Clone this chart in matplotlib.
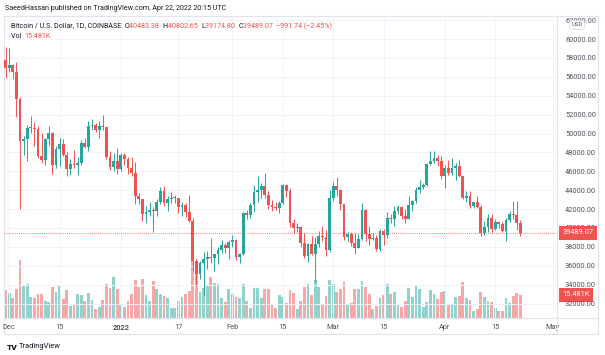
import matplotlib
matplotlib.use('Agg')
import matplotlib.pyplot as plt
import matplotlib.dates as mdates
from matplotlib.transforms import Affine2D
from matplotlib.lines import Line2D
from matplotlib.patches import Rectangle
from matplotlib.ticker import FuncFormatter
import numpy as np
import pandas as pd

plt.rcParams['font.family'] = ['Roboto', 'DejaVu Sans']

# ---------------- data ----------------
dates = pd.date_range('2021-11-30', '2022-04-22', freq='D')

opens = [57800, 56950, 57200, 56500, 53600, 49200, 49400, 50550, 50600, 50500, 47600, 47200, 49400, 50100,
         46700, 48400, 48900, 47700, 46200, 46800, 46700, 46900, 49000, 48600, 50800, 50850, 50400, 50800,
         50700, 47500, 46500, 47100,
         46200, 47700, 47300, 46400, 45800, 43400, 43100, 41500, 41700, 41900, 41800, 42700, 43900, 42600,
         43100, 43150, 43200, 42250, 42400, 41700, 40700, 36500, 35100, 36300, 36700, 36950, 36850, 37200,
         37700, 38200, 37900,
         38500, 38700, 36900, 37300, 41600, 41400, 42400, 43800, 44000, 44400, 43500, 42400, 42200, 42100,
         42600, 44500, 43900, 40500, 40000, 40100, 38400, 37000, 38300, 37300, 38300, 39200, 39100, 37700,
         43200, 44400, 44000, 42500, 39100, 39400, 38400, 37900, 38800, 41900, 39400, 38800, 38900, 37800,
         39700, 39300, 41100, 40900, 41800, 42200, 41300, 41000, 42400, 42900, 44000, 44300, 44500, 46800,
         47100, 47400, 47100,
         45500, 46300, 45800, 46400, 46600, 45500, 43200, 43400, 42300, 42800, 42200, 39500, 40100, 41100,
         39900, 40600, 40400, 39700, 40800, 41500, 41400, 40483.38]
highs = [59200, 59100, 57400, 57600, 53900, 49700, 50900, 51900, 51200, 50800, 50100, 49500, 50800, 50200,
         48700, 49500, 49400, 48000, 47300, 48300, 47500, 49300, 49500, 51300, 51500, 51100, 51300, 52000,
         50700, 48100, 47900, 48500,
         47900, 47900, 47500, 47500, 47000, 43700, 43100, 42300, 42800, 42200, 43100, 44300, 44400, 43400,
         43800, 43500, 43200, 42700, 42600, 43500, 41100, 36800, 36500, 37500, 37550, 38900, 37250, 38000,
         38700, 38400, 38700,
         39300, 38800, 37400, 41700, 41900, 42600, 44500, 45500, 44800, 45800, 43900, 43000, 42800, 42900,
         44700, 44600, 44200, 40900, 40500, 40200, 39500, 38400, 39200, 39000, 39700, 40200, 39800, 44000,
         44900, 45400, 44100, 42500, 39600, 39600, 39500, 39400, 42600, 42000, 40200, 39500, 39300, 39900,
         39900, 41700, 41500, 42300, 42400, 42300, 42000, 43400, 43000, 44300, 45100, 44800, 46900, 48200,
         48100, 47700, 47600,
         46700, 47200, 47400, 46900, 47200, 45500, 43900, 43900, 42800, 43400, 42400, 40700, 41500, 41500,
         40900, 40700, 40600, 41100, 41800, 42900, 42900, 40802.65]
lows = [55900, 56500, 55800, 51700, 42000, 47700, 47100, 50100, 48700, 47400, 46900, 46700, 48700, 45700,
        46300, 46600, 47600, 45500, 45600, 46400, 45600, 46700, 48500, 48100, 50400, 50200, 49500, 50400,
        47300, 46100, 46000, 45700,
        46000, 46700, 45700, 45500, 42500, 42500, 40700, 40500, 41300, 39600, 41300, 42500, 42300, 41800,
        42600, 42600, 41600, 41300, 41200, 40600, 35500, 34000, 34600, 32900, 35700, 36300, 35500, 36200,
        37400, 37400, 36700,
        38000, 36600, 36300, 37100, 40900, 41100, 41700, 42700, 43200, 43200, 42000, 41800, 41900, 41600,
        42500, 43300, 40100, 39500, 39600, 38000, 36800, 36400, 37100, 34300, 38000, 38600, 37000, 37500,
        42900, 43400, 41900, 38700, 38600, 38100, 37200, 37900, 38700, 38600, 38200, 38700, 37600, 37600,
        38200, 38900, 40500, 40200, 41500, 40900, 40500, 40900, 41800, 42600, 43700, 44100, 44400, 46700,
        46900, 46600, 45200,
        44200, 45600, 45600, 45100, 45400, 43100, 42700, 42100, 42100, 42100, 39200, 39300, 39600, 39600,
        39800, 40000, 39600, 38600, 40600, 40900, 39800, 39174.80]
closes = [56950, 57200, 56500, 53600, 49200, 49400, 50600, 50600, 50500, 47600, 47200, 49400, 50100, 46700,
          48400, 48900, 47700, 46200, 46800, 46700, 46900, 49000, 48600, 50800, 50850, 50400, 50800, 50700,
          47500, 46500, 47100, 46200,
          47700, 47300, 46400, 45800, 43400, 43100, 41500, 41700, 41900, 41800, 42700, 43900, 42600, 43100,
          43150, 43200, 42250, 42400, 41700, 40700, 36500, 35100, 36300, 36700, 36950, 36850, 37200, 37700,
          38200, 37900, 38500,
          38700, 36900, 37300, 41600, 41400, 42400, 43800, 44000, 44400, 43500, 42400, 42200, 42100, 42600,
          44500, 43900, 40500, 40000, 40100, 38400, 37000, 38300, 37300, 38300, 39200, 39100, 37700, 43200,
          44400, 44000, 42500, 39100, 39400, 38400, 37900, 38800, 41900, 39400, 38800, 38900, 37800, 39700,
          39300, 41100, 40900, 41800, 42200, 41300, 41000, 42400, 42900, 44000, 44300, 44500, 46800, 47100,
          47400, 47100, 45500,
          46300, 45800, 46400, 46600, 45500, 43200, 43400, 42300, 42800, 42200, 39500, 40100, 41100, 39900,
          40600, 40400, 39700, 40800, 41500, 41400, 40480.81, 39489.07]
volumes_k = [18.4, 16.6, 13.3, 19.5, 38.3, 21.7, 22.8, 14.2, 13.3, 15.7, 15.7, 11.1, 10.6, 20.6, 17.1, 21.3,
             12.6, 18.4, 8.2, 9.3, 16.1, 15.5, 11.1, 16.4, 11.8, 5.8, 7.1, 11.8, 22.8, 20.1, 27.2, 19.1,
             9.3, 7.1, 11.1, 16.1, 25.0, 20.4, 25.7, 15.1, 11.1, 24.8, 19.5, 15.9, 14.4, 13.3, 6.6, 6.6,
             11.1, 13.8, 15.7, 17.7, 37.9, 36.5, 17.3, 19.9, 21.7, 27.2, 23.3, 22.4, 13.3, 10.6, 19.5,
             16.1, 14.0, 13.5, 22.4, 11.5, 6.6, 19.9, 20.1, 13.3, 19.5, 19.5, 8.4, 6.6, 15.1, 14.2, 9.8,
             18.4, 16.4, 6.2, 11.1, 20.8, 22.4, 15.3, 25.0, 20.4, 8.4, 14.4, 25.4,
             22.4, 17.3, 19.5, 23.7, 8.4, 10.2, 19.5, 19.1, 24.4, 20.4, 15.7, 5.8, 8.2, 13.5, 15.1, 22.4,
             15.7, 17.1, 8.4, 7.5, 11.1, 19.7, 13.8, 21.7, 19.1, 7.5, 10.6, 18.4, 15.7, 12.4, 17.3,
             18.1, 8.4, 8.8, 13.8, 14.4, 24.1, 13.3, 11.8, 4.9, 5.8, 17.3, 13.8, 11.3, 10.8, 6.6, 4.5,
             4.9, 13.1, 10.2, 14.4, 16.8, 15.481]

price_ticks = list(range(32000, 62001, 2000))
tick_dates = ['2021-12-01', '2021-12-15', '2022-01-01', '2022-01-17', '2022-02-01', '2022-02-15',
              '2022-03-01', '2022-03-15', '2022-04-01', '2022-04-15', '2022-05-01']
tick_labels = ['Dec', '15', '2022', '17', 'Feb', '15', 'Mar', '15', 'Apr', '15', 'May']

# ---------------- figure ----------------
W, H = 605, 355
fig = plt.figure(figsize=(W / 100, H / 100), dpi=100)
fig.patch.set_facecolor('white')
pix = Affine2D().scale(1 / W, -1 / H).translate(0, 1) + fig.transFigure

UP, DOWN = '#26a69a', '#ef5350'
TXT = '#131722'
AX_TXT = '#50535e'
FS = 5.3
HFS = 5.15

L, T, R, B = 4, 16, 556.7, 318
rect = [L / W, 1 - B / H, (R - L) / W, (B - T) / H]
axv = fig.add_axes(rect)
ax = fig.add_axes(rect, sharex=axv)
ax.set_zorder(axv.get_zorder() + 1)
ax.patch.set_visible(False)
axv.axis('off')

x = mdates.date2num(dates)
o = np.array(opens, float); h = np.array(highs, float)
lo = np.array(lows, float); c = np.array(closes, float)
up = c >= o
cols = np.where(up, UP, DOWN)

# volume
axv.bar(x, volumes_k, width=0.78, color=cols, alpha=0.5, linewidth=0)
axv.set_ylim(0, 200.7)

# candles
ax.vlines(x, lo, h, colors=cols, lw=0.7, zorder=3)
ax.bar(x, np.maximum(np.abs(c - o), 100), bottom=np.minimum(o, c), width=0.76,
       color=cols, linewidth=0, zorder=4)

x0 = mdates.date2num(pd.Timestamp('2021-12-01'))
ax.set_xlim(x0 - 1.444, x0 + 152.08)
ax.set_ylim(30476, 62434)

ax.yaxis.tick_right()
ax.set_yticks(price_ticks)
ax.yaxis.set_major_formatter(FuncFormatter(lambda v, p: f'{v:.2f}'))
ax.set_xticks(mdates.date2num(pd.to_datetime(tick_dates)))
ax.set_xticklabels(tick_labels)
ax.get_xticklabels()[2].set_fontweight('bold')
ax.tick_params(axis='y', length=0, pad=6, labelsize=FS, labelcolor=AX_TXT)
ax.tick_params(axis='x', length=0, pad=4, labelsize=FS, labelcolor=AX_TXT)
ax.grid(True, color='#f0f3fa', lw=0.7, zorder=0)
ax.set_axisbelow(True)
for s in ax.spines.values():
    s.set_visible(False)

# last price line and labels
ax.axhline(c[-1], color=DOWN, lw=0.6, ls=(0, (1, 1.5)), zorder=2)
ax.annotate(f'{c[-1]:.2f}', xy=(1, c[-1]), xycoords=('axes fraction', 'data'),
            xytext=(4.3, 0), textcoords='offset points', ha='left', va='center',
            fontsize=FS, color='white', annotation_clip=False, zorder=10,
            bbox=dict(boxstyle='square,pad=0.45', fc=DOWN, ec='none'))
axv.annotate(f'{volumes_k[-1]:.3f}K', xy=(1, volumes_k[-1]), xycoords=('axes fraction', 'data'),
             xytext=(4.3, 0), textcoords='offset points', ha='left', va='center',
             fontsize=FS, color='white', annotation_clip=False, zorder=10,
             bbox=dict(boxstyle='square,pad=0.45', fc=DOWN, ec='none'))

# frame lines
fig.add_artist(Rectangle((L, T), 598 - L, 334 - T, transform=pix, fill=False,
                         ec='#e0e3eb', lw=0.8))
fig.add_artist(Line2D([R, R], [T, 334], transform=pix, color='#e0e3eb', lw=0.8))
fig.add_artist(Line2D([L, 598], [B, B], transform=pix, color='#e0e3eb', lw=0.8))

# USD badge
fig.text(577, 25, 'USD', transform=pix, fontsize=4.3, ha='center', va='center', color=AX_TXT,
         bbox=dict(boxstyle='round,pad=0.3', fc='white', ec='#d1d4dc', lw=0.5), zorder=20)

# header
fig.text(5, 8, 'SaeedHassan published on TradingView.com, Apr 22, 2022 20:15 UTC',
         transform=pix, fontsize=HFS, va='center', ha='left', color=TXT)

renderer = fig.canvas.get_renderer()


def chain(xs, y, parts, fs):
    for s, col in parts:
        t = fig.text(xs, y, s, transform=pix, fontsize=fs, color=col, va='center', ha='left')
        xs += t.get_window_extent(renderer=renderer).width


chg = c[-1] - c[-2]
pct = chg / c[-2] * 100
chain(10.7, 26, [('Bitcoin / U.S. Dollar, 1D, COINBASE  ', TXT),
                 ('O', TXT), (f'{o[-1]:.2f}  ', DOWN),
                 ('H', TXT), (f'{h[-1]:.2f}  ', DOWN),
                 ('L', TXT), (f'{lo[-1]:.2f}  ', DOWN),
                 ('C', TXT), (f'{c[-1]:.2f}  ', DOWN),
                 (f'\u2212{abs(chg):.2f} (\u2212{abs(pct):.2f}%)', DOWN)], HFS)
chain(10.7, 36, [('Vol  ', TXT), (f'{volumes_k[-1]:.3f}K', DOWN)], HFS)

# footer logo
fig.text(7, 347, 'TV', transform=pix, fontsize=6, fontweight='heavy', va='center', color=TXT)
fig.text(19, 347, 'TradingView', transform=pix, fontsize=5.4, va='center', color=TXT)

fig.savefig('out.png', dpi=100, facecolor='white')
